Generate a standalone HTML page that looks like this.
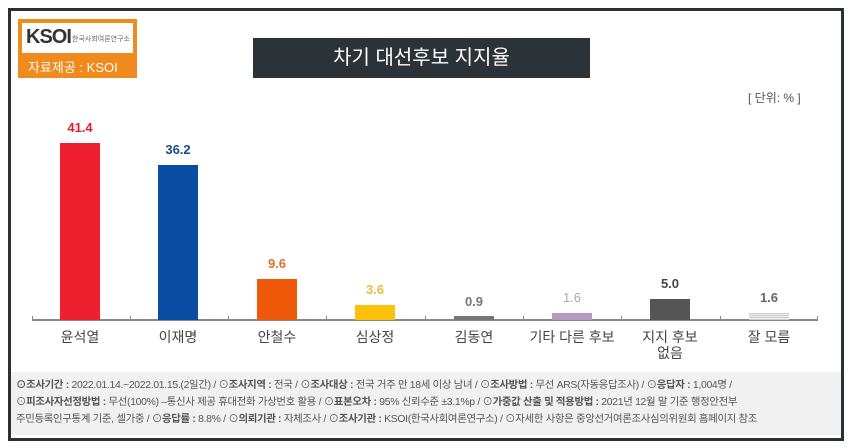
<!DOCTYPE html>
<html><head><meta charset="utf-8"><style>
body{margin:0;width:850px;height:448px;background:#fff;position:relative;overflow:hidden;font-family:"Liberation Sans","Noto Sans CJK KR",sans-serif}
.frame{position:absolute;left:8px;top:8px;width:830px;height:427px;border:3px solid #2b3036;background:#fff}
.abs{position:absolute}
.bar{position:absolute;width:40px}
.val{position:absolute;width:80px;text-align:center;font-size:13px;font-weight:bold}
.lab{position:absolute;width:98px;text-align:center;font-size:14px;color:#444;line-height:16px}
.tick{position:absolute;top:316px;width:1px;height:4px;background:#888}
</style></head><body>
<div class="frame"></div>
<div class="abs" style="left:18px;top:19px;width:119px;height:59px;background:#f08a1c"></div>
<div class="abs" style="left:22px;top:23px;width:111px;height:30px;background:#fff"></div>
<div class="abs" style="left:26px;top:26px;font-size:20px;font-weight:bold;color:#333;letter-spacing:-1px">KSOI</div>
<div class="abs" style="left:72px;top:34px;font-size:7px;color:#666">한국사회여론연구소</div>
<div class="abs" style="left:28px;top:57px;font-size:13px;color:#fff">자료제공 : KSOI</div>
<div class="abs" style="left:253px;top:38px;width:337px;height:40px;background:#2b3238;color:#fff;font-size:20px;text-align:center;line-height:40px">차기 대선후보 지지율</div>
<div class="abs" style="left:748px;top:89px;font-size:12px;color:#555">[ 단위: % ]</div>
<div class="abs" style="left:32px;top:319px;width:786px;height:2px;background:#888"></div>
<div class="tick" style="left:32px"></div><div class="tick" style="left:130px"></div><div class="tick" style="left:228px"></div><div class="tick" style="left:326px"></div><div class="tick" style="left:425px"></div><div class="tick" style="left:523px"></div><div class="tick" style="left:621px"></div><div class="tick" style="left:720px"></div><div class="tick" style="left:817px"></div>
<div class="bar" style="left:60px;top:143px;height:177px;background:#ee1f2e"></div>
<div class="bar" style="left:158px;top:165px;height:155px;background:#0a4da2"></div>
<div class="bar" style="left:257px;top:279px;height:41px;background:#ee5a0a"></div>
<div class="bar" style="left:355px;top:305px;height:15px;background:#fcc10a"></div>
<div class="bar" style="left:454px;top:316px;height:4px;background:#777"></div>
<div class="bar" style="left:552px;top:313px;height:7px;background:#b39cc0"></div>
<div class="bar" style="left:650px;top:299px;height:21px;background:#555"></div>
<div class="bar" style="left:749px;top:313px;height:7px;background:repeating-linear-gradient(#ccc 0 1px,#eee 1px 2px)"></div>
<div class="val" style="left:40px;top:120px;color:#e02030">41.4</div>
<div class="val" style="left:138px;top:142px;color:#1a4a8a">36.2</div>
<div class="val" style="left:237px;top:256px;color:#e0702a">9.6</div>
<div class="val" style="left:335px;top:282px;color:#f0b840">3.6</div>
<div class="val" style="left:434px;top:294px;color:#777">0.9</div>
<div class="val" style="left:532px;top:290px;color:#aaa;font-weight:normal">1.6</div>
<div class="val" style="left:630px;top:276px;color:#444">5.0</div>
<div class="val" style="left:729px;top:290px;color:#666">1.6</div>
<div class="lab" style="left:31px;top:329px">윤석열</div>
<div class="lab" style="left:129px;top:329px">이재명</div>
<div class="lab" style="left:228px;top:329px">안철수</div>
<div class="lab" style="left:326px;top:329px">심상정</div>
<div class="lab" style="left:425px;top:329px">김동연</div>
<div class="lab" style="left:523px;top:329px">기타 다른 후보</div>
<div class="lab" style="left:621px;top:329px">지지 후보<br>없음</div>
<div class="lab" style="left:720px;top:329px">잘 모름</div>
<div class="abs" style="left:11px;top:372px;width:830px;height:63px;background:#f1f1f1;font-size:10.4px;color:#555;line-height:17px;padding:5px 0 0 5px;box-sizing:border-box;white-space:nowrap;overflow:hidden;letter-spacing:-0.3px">
<b>⊙조사기간 :</b> 2022.01.14.~2022.01.15.(2일간) / ⊙<b>조사지역 :</b> 전국 / ⊙<b>조사대상 :</b> 전국 거주 만 18세 이상 남녀 / ⊙<b>조사방법 :</b> 무선 ARS(자동응답조사) / ⊙<b>응답자 :</b> 1,004명 /<br>
⊙<b>피조사자선정방법 :</b> 무선(100%) –통신사 제공 휴대전화 가상번호 활용 / ⊙<b>표본오차 :</b> 95% 신뢰수준 ±3.1%p / ⊙<b>가중값 산출 및 적용방법 :</b> 2021년 12월 말 기준 행정안전부<br>
주민등록인구통계 기준, 셀가중 / ⊙<b>응답률 :</b> 8.8% / ⊙<b>의뢰기관 :</b> 자체조사 / ⊙<b>조사기관 :</b> KSOI(한국사회여론연구소) / ⊙자세한 사항은 중앙선거여론조사심의위원회 홈페이지 참조
</div>
</body></html>
